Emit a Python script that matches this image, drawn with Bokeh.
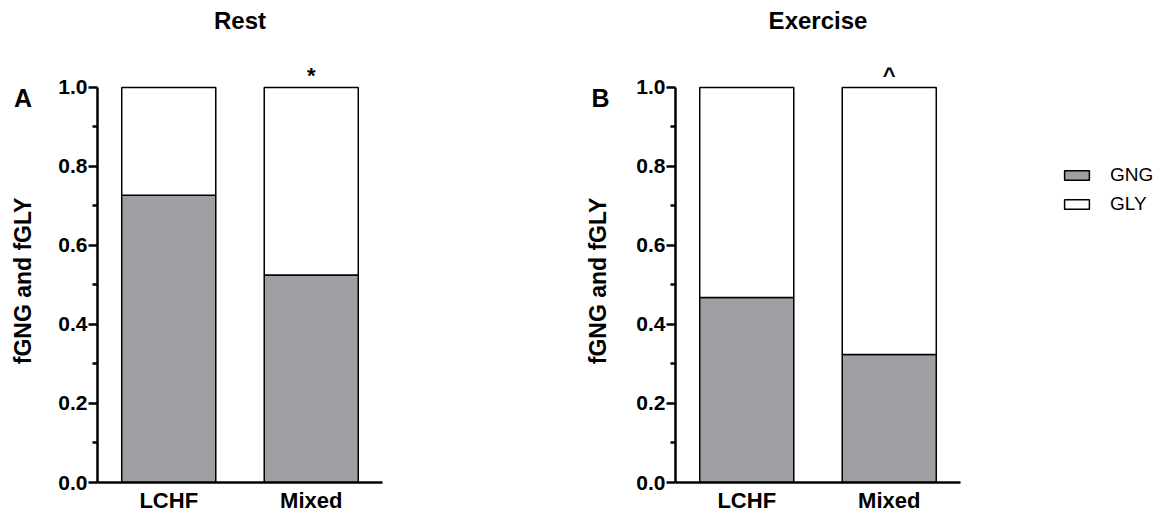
from bokeh.plotting import figure
from bokeh.models import (ColumnDataSource, FactorRange, Range1d, FixedTicker,
                          PrintfTickFormatter, Legend, LegendItem)
from bokeh.layouts import row
from bokeh.core.properties import value
from bokeh.embed import file_html
from bokeh.resources import INLINE

# ---- data ----
groups = ["LCHF", "Mixed"]
rest_gng = [0.727, 0.525]
rest_gly = [0.273, 0.475]
exercise_gng = [0.468, 0.324]
exercise_gly = [0.532, 0.676]
rest_sig = ["", "*"]
exercise_sig = ["", "^"]
series = ["GNG", "GLY"]
y_ticks = [0.0, 0.2, 0.4, 0.6, 0.8, 1.0]
y_minor = [0.1, 0.3, 0.5, 0.7, 0.9]
y_label = "fGNG and fGLY"

FONT = "Liberation Sans"
GREY = "#a09fa4"
COLORS = [GREY, "white"]
H = 517
TOP = 0
BOTTOM = 35
YMAX = 1.22          # room above 1.0 for the title and significance marks
TITLE_Y = 1.17


def bare(width, xr, yr, top=TOP, bottom=BOTTOM):
    s = figure(x_range=xr, y_range=yr, width=width, height=H,
               output_backend="svg", toolbar_location=None,
               x_axis_type=None, y_axis_type=None,
               min_border_left=0, min_border_right=0,
               min_border_top=top, min_border_bottom=bottom)
    s.outline_line_color = None
    s.xgrid.grid_line_color = None
    s.ygrid.grid_line_color = None
    return s


def strip(letter, width, letter_x, label_x):
    """Narrow figure holding the panel letter and the vertical y-axis title."""
    s = bare(width, Range1d(0, width), Range1d(0, YMAX))
    s.text(x=[letter_x], y=[0.972], text=[letter], text_align="center",
           text_baseline="middle", text_font=value(FONT),
           text_font_size="25px", text_font_style="bold", text_color="black")
    s.text(x=[label_x], y=[0.51], text=[y_label], angle=1.5707963,
           text_align="center", text_baseline="middle",
           text_font=value(FONT), text_font_size="23px",
           text_font_style="bold", text_color="black")
    return s


def panel(title, gng, gly, sig, width, left, right):
    src = ColumnDataSource(dict(group=groups, GNG=gng, GLY=gly, sig=sig))
    p = figure(x_range=FactorRange(factors=groups, range_padding=0),
               y_range=Range1d(0, YMAX),
               width=width, height=H, output_backend="svg",
               toolbar_location=None,
               min_border_left=left, min_border_right=right,
               min_border_top=TOP, min_border_bottom=BOTTOM)
    p.vbar_stack(series, x="group", width=0.66, source=src,
                 fill_color=COLORS, line_color="black", line_width=1.5)
    p.text(x="group", y=1.0, text="sig", source=src, text_align="center",
           text_baseline="middle", y_offset=-12, text_font_size="22px",
           text_font_style="bold", text_font=value(FONT), text_color="black")
    # panel title, centred over the plotting area
    p.text(x=[len(groups) / 2], y=[TITLE_Y], text=[title], text_align="center",
           text_baseline="middle", text_font=value(FONT),
           text_font_size="24px", text_font_style="bold", text_color="black")
    p.outline_line_color = None
    p.xgrid.grid_line_color = None
    p.ygrid.grid_line_color = None

    ya = p.yaxis[0]
    ya.ticker = FixedTicker(ticks=y_ticks, minor_ticks=y_minor)
    ya.formatter = PrintfTickFormatter(format="%.1f")
    ya.bounds = (0, 1)
    ya.axis_line_width = 2.5
    ya.axis_line_color = "black"
    ya.major_tick_line_width = 2.5
    ya.minor_tick_line_width = 2.5
    ya.major_tick_line_color = "black"
    ya.minor_tick_line_color = "black"
    ya.major_tick_out = 9
    ya.major_tick_in = 0
    ya.minor_tick_out = 5
    ya.minor_tick_in = 0
    ya.major_label_standoff = 1
    ya.major_label_text_font = FONT
    ya.major_label_text_font_size = "21px"
    ya.major_label_text_font_style = "bold"
    ya.major_label_text_color = "black"

    xa = p.xaxis[0]
    xa.axis_line_width = 2.5
    xa.axis_line_color = "black"
    xa.major_tick_out = 0
    xa.major_tick_in = 0
    xa.major_tick_line_color = None
    xa.major_label_standoff = 5
    xa.major_label_text_font = FONT
    xa.major_label_text_font_size = "22px"
    xa.major_label_text_font_style = "bold"
    xa.major_label_text_color = "black"
    return p


sa = strip("A", 48, 22.5, 22.5)
pa = panel("Rest", rest_gng, rest_gly, rest_sig, 530, 49, 196)
sb = strip("B", 48, 22, 19.5)
pb = panel("Exercise", exercise_gng, exercise_gly, exercise_sig, 344, 49, 10)

# legend-only figure (swatch renderers hold a single NaN, so nothing is drawn)
lf = bare(192, Range1d(0, 1), Range1d(0, 1), top=0, bottom=0)
items = []
for name, col in zip(series, COLORS):
    r = lf.vbar(x=[float("nan")], top=[float("nan")], width=0.5,
                fill_color=col, line_color="black", line_width=1.5)
    items.append(LegendItem(label=name, renderers=[r]))
legend = Legend(items=items, location=(91, 267), glyph_width=31,
                glyph_height=12, label_standoff=18, spacing=7, padding=0,
                margin=0, border_line_color=None, background_fill_alpha=0,
                label_text_font=FONT, label_text_font_size="19px",
                label_text_color="black", label_text_baseline="middle")
lf.add_layout(legend)

layout = row(sa, pa, sb, pb, lf)
open("out.html", "w").write(file_html(layout, INLINE))
